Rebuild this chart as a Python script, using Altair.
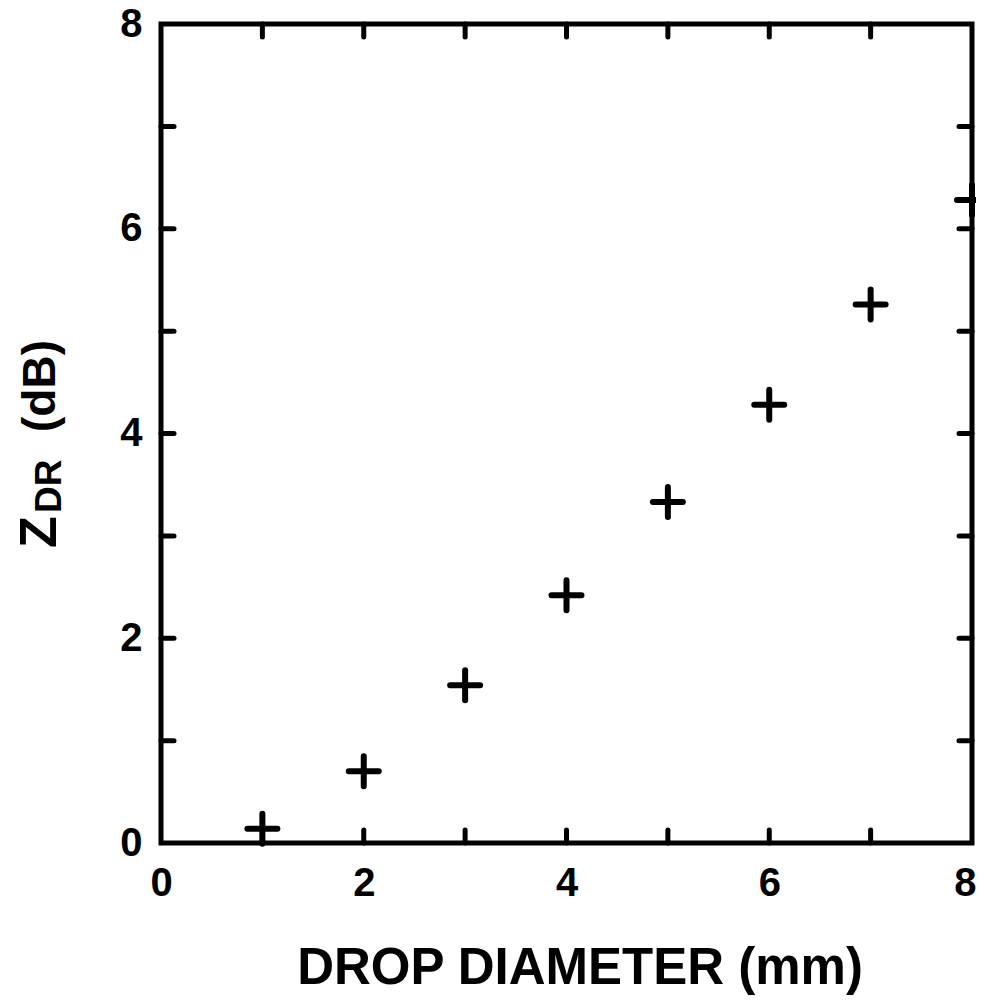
import altair as alt
import pandas as pd

# ---- data ----
diameter = [1, 2, 3, 4, 5, 6, 7, 8]
zdr = [0.14, 0.70, 1.54, 2.42, 3.33, 4.28, 5.26, 6.28]
x_labels = [0, 2, 4, 6, 8]
y_labels = [0, 2, 4, 6, 8]
minor_ticks = [1, 2, 3, 4, 5, 6, 7]
x_title = ["DROP DIAMETER (mm)"]
y_title_parts = ["Z", "DR", "(dB)"]

W, H = 811, 819
FONT = "Liberation Sans"
TICK = 13

df = pd.DataFrame({"d": diameter, "z": zdr})
ticks = pd.DataFrame({"t": minor_ticks})

xscale = alt.Scale(domain=[0, 8], nice=False)
yscale = alt.Scale(domain=[0, 8], nice=False)

x_axis = alt.Axis(values=x_labels, ticks=False, domain=False, grid=False,
                  labelFont=FONT, labelFontSize=40, labelFontWeight="bold",
                  labelColor="black", labelPadding=20, labelFlush=False,
                  labelOverlap=False, title="",
                  labelAlign={"expr": "datum.value == 8 ? 'right' : 'center'"},
                  labelOffset={"expr": "datum.value == 8 ? 4 : 0"})
y_axis = alt.Axis(values=y_labels, ticks=False, domain=False, grid=False,
                  labelFont=FONT, labelFontSize=40, labelFontWeight="bold",
                  labelColor="black", labelPadding=19, labelFlush=False,
                  labelOverlap=False, title="")

X = alt.X("d:Q", scale=xscale, axis=x_axis)
Y = alt.Y("z:Q", scale=yscale, axis=y_axis)

points = alt.Chart(df).mark_point(
    shape="M-1,0L1,0M0,-1L0,1", size=900, filled=False, stroke="black",
    strokeWidth=6, strokeCap="round", opacity=1
).encode(x=X, y=Y)

rule_style = dict(color="black", strokeWidth=5, strokeCap="round")
tx = alt.X("t:Q", scale=xscale, axis=x_axis)
ty = alt.Y("t:Q", scale=yscale, axis=y_axis)

bottom_ticks = alt.Chart(ticks).mark_rule(**rule_style).encode(
    x=tx, y=alt.value(H), y2=alt.value(H - TICK))
top_ticks = alt.Chart(ticks).mark_rule(**rule_style).encode(
    x=tx, y=alt.value(0), y2=alt.value(TICK))
left_ticks = alt.Chart(ticks).mark_rule(**rule_style).encode(
    y=ty, x=alt.value(0), x2=alt.value(TICK))
right_ticks = alt.Chart(ticks).mark_rule(**rule_style).encode(
    y=ty, x=alt.value(W), x2=alt.value(W - TICK))

one = pd.DataFrame({"k": [0]})
txt = dict(font=FONT, fontWeight="bold", color="black")

xt = alt.Chart(one).mark_text(text=x_title[0], fontSize=51, align="center",
                              baseline="alphabetic", **txt).encode(
    x=alt.value(419), y=alt.value(960))

z_txt = alt.Chart(one).mark_text(text=y_title_parts[0], fontSize=52, angle=270,
                                 align="left", baseline="alphabetic", **txt).encode(
    x=alt.value(-105), y=alt.value(524))
dr_txt = alt.Chart(one).mark_text(text=y_title_parts[1], fontSize=37, angle=270,
                                  align="left", baseline="alphabetic", **txt).encode(
    x=alt.value(-100), y=alt.value(489))
db_txt = alt.Chart(one).mark_text(text=y_title_parts[2], fontSize=46, angle=270,
                                  align="left", baseline="alphabetic", **txt).encode(
    x=alt.value(-106), y=alt.value(408))

chart = alt.layer(
    bottom_ticks, top_ticks, left_ticks, right_ticks, points, xt, z_txt, dr_txt, db_txt
).properties(
    width=W, height=H,
    autosize=alt.AutoSizeParams(type="none"),
    padding={"left": 153, "top": 16, "right": 4, "bottom": 152},
    background="white",
).configure_view(stroke="black", strokeWidth=5)

chart.save("out.html", embed_options={"renderer": "svg", "actions": False})
